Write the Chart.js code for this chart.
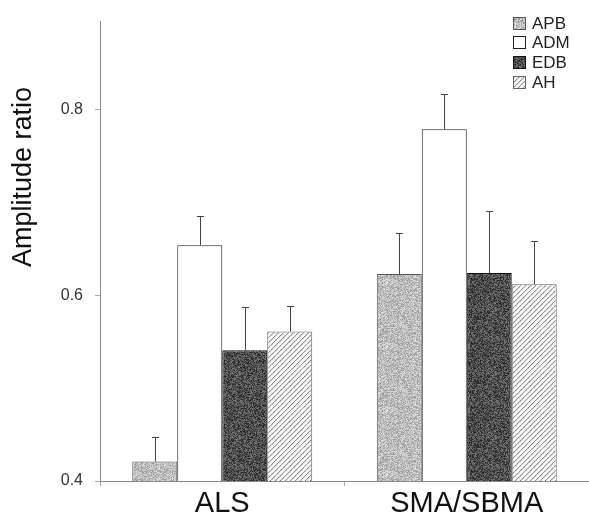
<!DOCTYPE html>
<html>
<head>
<meta charset="utf-8">
<script src="https://cdn.jsdelivr.net/npm/chart.js@4/dist/chart.umd.min.js"></script>
<style>
  html, body { margin: 0; background: #fff; }
  #wrap { width: 589px; height: 522px; position: relative; }
</style>
</head>
<body>
<div id="wrap"><canvas id="myChart"></canvas></div>
<script>
const groups = ['ALS', 'SMA/SBMA']
const muscles = ['APB', 'ADM', 'EDB', 'AH']
// mean amplitude ratio per group
const apb = [0.421, 0.623]
const adm = [0.654, 0.779]
const edb = [0.541, 0.624]
const ah = [0.561, 0.612]
// upper error (SE)
const apbErr = [0.026, 0.044]
const admErr = [0.031, 0.038]
const edbErr = [0.046, 0.067]
const ahErr = [0.028, 0.047]
const yTicks = [0.4, 0.6, 0.8]
const yTitle = 'Amplitude ratio'

const FONT = '"Liberation Sans", Arial, Helvetica, sans-serif'

// simple seeded noise so the texture is the same each run
let seed = 7
function rnd() {
  seed = (seed * 16807) % 2147483647
  return seed / 2147483647
}

function noisePattern(base, spread) {
  const c = document.createElement('canvas')
  c.width = 64; c.height = 64
  const g = c.getContext('2d')
  const img = g.createImageData(64, 64)
  for (let i = 0; i < 64 * 64; i++) {
    const v = Math.max(0, Math.min(255, base + (rnd() - 0.5) * 2 * spread))
    img.data[i * 4] = v; img.data[i * 4 + 1] = v; img.data[i * 4 + 2] = v; img.data[i * 4 + 3] = 255
  }
  g.putImageData(img, 0, 0)
  return g.createPattern(c, 'repeat')
}

function hatchPattern() {
  const c = document.createElement('canvas')
  c.width = 40; c.height = 40
  const g = c.getContext('2d')
  const img = g.createImageData(40, 40)
  for (let y = 0; y < 40; y++) {
    for (let x = 0; x < 40; x++) {
      const k = (x + y) % 5
      let v = 252 - rnd() * 12
      if (k === 0) v = 125 + rnd() * 40
      else if (k === 1) v = 205 + rnd() * 30
      const i = (y * 40 + x) * 4
      img.data[i] = v; img.data[i + 1] = v; img.data[i + 2] = v; img.data[i + 3] = 255
    }
  }
  g.putImageData(img, 0, 0)
  return g.createPattern(c, 'repeat')
}

const fills = [noisePattern(188, 38), '#ffffff', noisePattern(78, 48), hatchPattern()]
const borders = ['#555', '#222', '#111', '#666']
const values = [apb, adm, edb, ah]
const errors = [apbErr, admErr, edbErr, ahErr]

const errorBars = {
  id: 'errorBars',
  afterDatasetsDraw(chart) {
    const ctx = chart.ctx
    const y = chart.scales.y
    ctx.save()
    ctx.strokeStyle = '#444'
    ctx.lineWidth = 1
    chart.data.datasets.forEach((ds, i) => {
      chart.getDatasetMeta(i).data.forEach((bar, j) => {
        const top = Math.round(y.getPixelForValue(ds.data[j] + ds.errors[j])) + 0.5
        const x = Math.round(bar.x) + 0.5
        ctx.beginPath()
        ctx.moveTo(x, bar.y)
        ctx.lineTo(x, top)
        ctx.moveTo(x - 3.5, top)
        ctx.lineTo(x + 3.5, top)
        ctx.stroke()
      })
    })
    ctx.restore()
  }
}

const extras = {
  id: 'extras',
  afterDraw(chart) {
    const ctx = chart.ctx
    ctx.save()
    // y axis title, placed above the middle like the original
    ctx.translate(24, 177)
    ctx.rotate(-Math.PI / 2)
    ctx.fillStyle = '#111'
    ctx.font = '27px ' + FONT
    ctx.textAlign = 'center'
    ctx.textBaseline = 'middle'
    ctx.fillText(yTitle, 0, 0)
    ctx.restore()

    // legend in top right corner
    ctx.save()
    ctx.font = '17px ' + FONT
    ctx.textBaseline = 'middle'
    chart.data.datasets.forEach((ds, i) => {
      const cy = 23 + i * 19.7
      ctx.fillStyle = ds.backgroundColor
      ctx.fillRect(513, Math.round(cy - 6.5), 13, 13)
      ctx.strokeStyle = ds.borderColor
      ctx.lineWidth = 1
      ctx.strokeRect(513.5, Math.round(cy - 6.5) + 0.5, 12, 12)
      ctx.fillStyle = '#222'
      ctx.fillText(ds.label, 532, cy + 1)
    })
    ctx.restore()
  }
}

const ctx = document.getElementById('myChart')
// eslint-disable-next-line no-unused-vars
const myChart = new Chart(ctx, {
  type: 'bar',
  data: {
    labels: groups,
    datasets: muscles.map((m, i) => ({
      label: m,
      data: values[i],
      errors: errors[i],
      backgroundColor: fills[i],
      borderColor: borders[i],
      borderWidth: 1,
      borderSkipped: false,
      categoryPercentage: 0.736,
      barPercentage: 1
    }))
  },
  options: {
    responsive: true,
    maintainAspectRatio: false,
    animation: false,
    layout: { padding: { top: 18, right: 0, left: 0, bottom: 0 } },
    plugins: {
      legend: { display: false },
      tooltip: { enabled: false }
    },
    scales: {
      x: {
        offset: true,
        grid: { drawOnChartArea: false, tickLength: 5, color: '#aaa' },
        border: { dash: [1, 2], color: '#888' },
        ticks: { font: { family: FONT, size: 29 }, color: '#111', padding: 1 },
        afterFit(s) { s.height = 41 }
      },
      y: {
        min: 0.4,
        max: 0.895,
        afterBuildTicks(s) { s.ticks = yTicks.map(v => ({ value: v })) },
        grid: { drawOnChartArea: false, tickLength: 5, color: '#aaa' },
        border: { dash: [1, 2], color: '#888' },
        ticks: {
          font: { family: FONT, size: 16 },
          color: '#333',
          padding: 12,
          callback: v => Number(v).toFixed(1)
        },
        afterFit(s) { s.width = 100 }
      }
    }
  },
  plugins: [errorBars, extras]
})
</script>
</body>
</html>
